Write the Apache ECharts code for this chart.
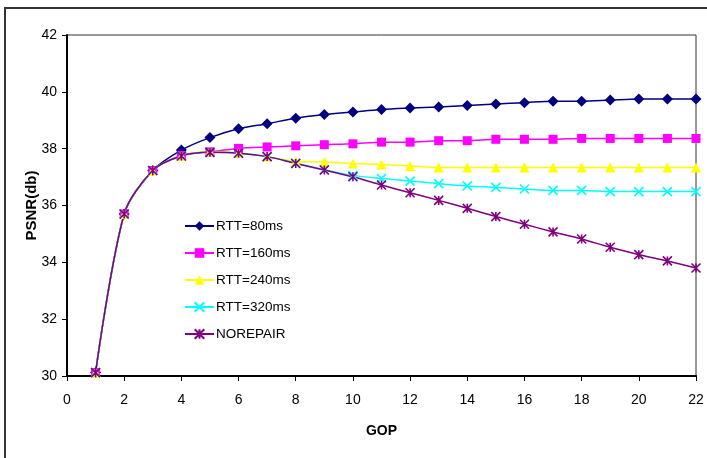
<!DOCTYPE html>
<html><head><meta charset="utf-8">
<script src="https://cdn.jsdelivr.net/npm/echarts@6/dist/echarts.min.js"></script>
<style>html,body{margin:0;padding:0;background:#fff}#c{width:707px;height:458px}</style>
</head><body><div id="c"></div>
<script>
const gop = [1,2,3,4,5,6,7,8,9,10,11,12,13,14,15,16,17,18,19,20,21,22];
const rtt80  = [30.12,35.7,37.23,37.95,38.39,38.70,38.88,39.07,39.20,39.29,39.38,39.43,39.47,39.52,39.57,39.62,39.67,39.67,39.71,39.75,39.75,39.75];
const rtt160 = [30.12,35.7,37.23,37.76,37.89,38.01,38.06,38.10,38.14,38.17,38.23,38.23,38.28,38.28,38.33,38.33,38.33,38.36,38.36,38.36,38.36,38.36];
const rtt240 = [30.12,35.7,37.23,37.74,37.90,37.86,37.72,37.56,37.53,37.48,37.44,37.39,37.34,37.34,37.34,37.34,37.34,37.34,37.34,37.34,37.34,37.34];
const rtt320 = [30.12,35.7,37.23,37.74,37.87,37.84,37.72,37.49,37.26,37.06,36.95,36.86,36.77,36.69,36.64,36.58,36.53,36.53,36.49,36.49,36.49,36.49];
const norepair = [30.12,35.7,37.23,37.74,37.87,37.84,37.72,37.48,37.25,37.01,36.72,36.45,36.18,35.90,35.61,35.34,35.07,34.82,34.53,34.27,34.05,33.80];
const seriesNames = ['RTT=80ms','RTT=160ms','RTT=240ms','RTT=320ms','NOREPAIR'];
const xTicks = {min:0, max:22, step:2};
const yTicks = {min:30, max:42, step:2};

const font = '"Liberation Sans", Arial, sans-serif';
const pair = arr => gop.map((g,i)=>[g,arr[i]]);
const X_PATH = 'path://M0,0L10,10M10,0L0,10';
const STAR_PATH = 'path://M0,0L10,10M10,0L0,10M5,0L5,10';
function mk(name, data, color, symbol, size, stroke){
  return {
    name, type:'line', data: pair(data), smooth:0.3,
    symbol, symbolSize:size, showSymbol:true,
    lineStyle:{color, width:1.5},
    itemStyle: stroke ? {color:'rgba(0,0,0,0)', borderColor:color, borderWidth:1.6} : {color, borderColor:color, borderWidth:0},
    emphasis:{disabled:true}, animation:false
  };
}
const chart = echarts.init(document.getElementById('c'), null, {renderer:'canvas'});
chart.setOption({
  animation:false,
  backgroundColor:'#fff',
  graphic:[{type:'rect', shape:{x:5,y:8,width:740,height:480}, style:{fill:'none', stroke:'#333', lineWidth:2}, silent:true, z:-10}],
  grid:{left:67, top:35, right:11, bottom:82, show:true, borderColor:'#333', borderWidth:1},
  legend:{
    orient:'vertical', left:184, top:219, padding:0, itemWidth:29, itemHeight:12, itemGap:13,
    textStyle:{fontFamily:font, fontSize:13.5, lineHeight:14, color:'#000', padding:[0,0,0,-3]},
    data: seriesNames
  },
  xAxis:{
    type:'value', min:xTicks.min, max:xTicks.max, interval:xTicks.step,
    name:'GOP', nameLocation:'middle', nameGap:48, nameMoveOverlap:false,
    nameTextStyle:{fontFamily:font, fontSize:14, fontWeight:'bold', color:'#000'},
    axisLine:{show:true, lineStyle:{color:'#000', width:2}},
    axisTick:{show:true, length:5, lineStyle:{color:'#000', width:1}},
    axisLabel:{fontFamily:font, fontSize:14, color:'#000', margin:17},
    splitLine:{show:false}
  },
  yAxis:{
    type:'value', min:yTicks.min, max:yTicks.max, interval:yTicks.step,
    name:'PSNR(db)', nameLocation:'middle', nameGap:28, nameRotate:90, nameMoveOverlap:false,
    nameTextStyle:{fontFamily:font, fontSize:15, fontWeight:'bold', color:'#000'},
    axisLine:{show:true, lineStyle:{color:'#000', width:2}},
    axisTick:{show:true, length:5, lineStyle:{color:'#000', width:1}},
    axisLabel:{fontFamily:font, fontSize:14, color:'#000', margin:10},
    splitLine:{show:false}
  },
  series:[
    mk(seriesNames[0], rtt80, '#000080', 'diamond', 11, false),
    mk(seriesNames[1], rtt160, '#FF00FF', 'rect', 9, false),
    mk(seriesNames[2], rtt240, '#FFFF00', 'triangle', 10, false),
    mk(seriesNames[3], rtt320, '#00FFFF', X_PATH, 9, true),
    mk(seriesNames[4], norepair, '#800080', STAR_PATH, 9, true)
  ]
});
</script></body></html>
